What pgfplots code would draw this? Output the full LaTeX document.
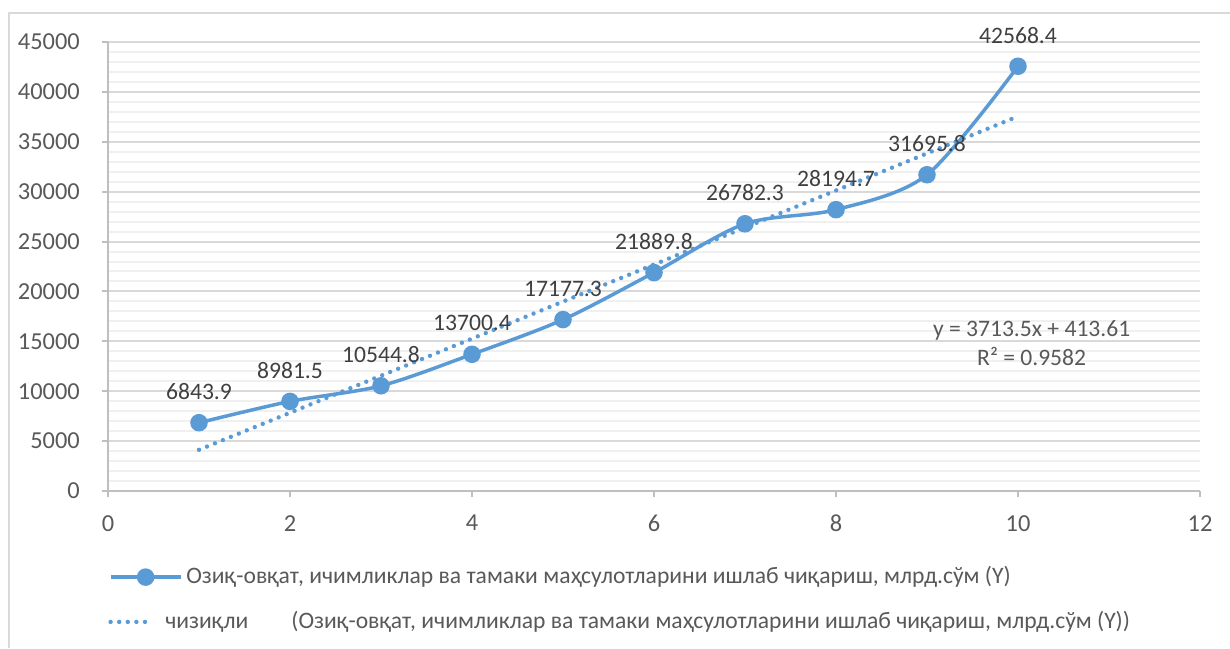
\documentclass[border=0pt]{standalone}
\usepackage{pgfplots}
\pgfplotsset{compat=1.18}
\usepackage{fontspec}
\setmainfont{Carlito}
\definecolor{exblue}{HTML}{5B9BD5}
\definecolor{tickgray}{HTML}{595959}
\definecolor{labgray}{HTML}{404040}
\definecolor{majgrid}{HTML}{D9D9D9}
\definecolor{mingrid}{HTML}{F0F0F0}
\definecolor{axgray}{HTML}{BFBFBF}
\begin{document}
\fontsize{11.8}{14.5}\selectfont
\begin{tikzpicture}
\path[use as bounding box] (0,0) rectangle (615pt,324pt);
\draw[color=majgrid, line width=1pt] (4.5pt,0) -- (4.5pt,317.5pt) -- (615pt,317.5pt);
\begin{axis}[
  at={(54pt,78.5pt)}, anchor=south west,
  scale only axis, width=546pt, height=224.5pt,
  xmin=0, xmax=12, ymin=0, ymax=45000,
  xtick={0,2,4,6,8,10,12},
  ytick={0,5000,10000,15000,20000,25000,30000,35000,40000,45000},
  minor y tick num=4,
  scaled y ticks=false, scaled x ticks=false,
  /pgf/number format/1000 sep={},
  /pgf/number format/assume math mode=true,
  axis lines=left,
  axis line style={-, draw=axgray, line width=1pt},
  tick align=outside,
  major tick length=3pt, minor tick length=0pt,
  tick style={draw=axgray, line width=1pt},
  ymajorgrids, yminorgrids,
  major grid style={draw=majgrid, line width=1pt},
  minor grid style={draw=mingrid, line width=1pt},
  ticklabel style={font=\fontsize{12.2}{14}\selectfont, text=tickgray},
  yticklabel style={xshift=-7pt},
  xticklabel style={yshift=-5pt},
  clip=false,
  legend style={at={(0,0)}, anchor=west, xshift=0pt, yshift=-54.25pt,
    draw=none, fill=none, inner sep=0pt, row sep=8pt,
    font=\fontsize{11.8}{14}\selectfont, text=tickgray,
    cells={anchor=west}},
]
\addplot[exblue, line width=1.75pt, smooth, mark=*, mark size=3.5pt,
  mark options={fill=exblue, draw=exblue},
  point meta=explicit symbolic,
  nodes near coords,
  every node near coord/.append style={anchor=center, yshift=15.5pt, text=labgray, font=\fontsize{11.8}{14}\selectfont},
  legend image code/.code={
    \draw[exblue, line width=1.75pt] (0pt,0pt) -- (35pt,0pt);
    \fill[exblue] (17.5pt,0pt) circle (3.5pt);}
] coordinates {
 (1,6843.9) [6843.9]
 (2,8981.5) [8981.5]
 (3,10544.8) [10544.8]
 (4,13700.4) [13700.4]
 (5,17177.3) [17177.3]
 (6,21889.8) [21889.8]
 (7,26782.3) [26782.3]
 (8,28194.7) [28194.7]
 (9,31695.8) [31695.8]
 (10,42568.4) [42568.4]
};
\addlegendentry{Озиқ-овқат, ичимликлар ва тамаки маҳсулотларини ишлаб чиқариш, млрд.сўм (Y)}
\addplot[exblue, line width=2.2pt, line cap=round, dash pattern=on 0pt off 4.3pt,
  legend image code/.code={
    \draw[exblue, line width=2.2pt, line cap=round, dash pattern=on 0pt off 4.3pt] (0pt,0pt) -- (18pt,0pt);}
] coordinates {
 (1,4127.11)
 (10,37548.61)
};
\addlegendentry{\hspace*{-10.5pt}\makebox[63pt][l]{чизиқли}(Озиқ-овқат, ичимликлар ва тамаки маҳсулотларини ишлаб чиқариш, млрд.сўм (Y))}
\node[align=center, text=tickgray, font=\fontsize{11.8}{14.5}\selectfont] at (axis cs:10.15,14800) {y = 3713.5x + 413.61\\R² = 0.9582};
\end{axis}
\end{tikzpicture}
\end{document}
